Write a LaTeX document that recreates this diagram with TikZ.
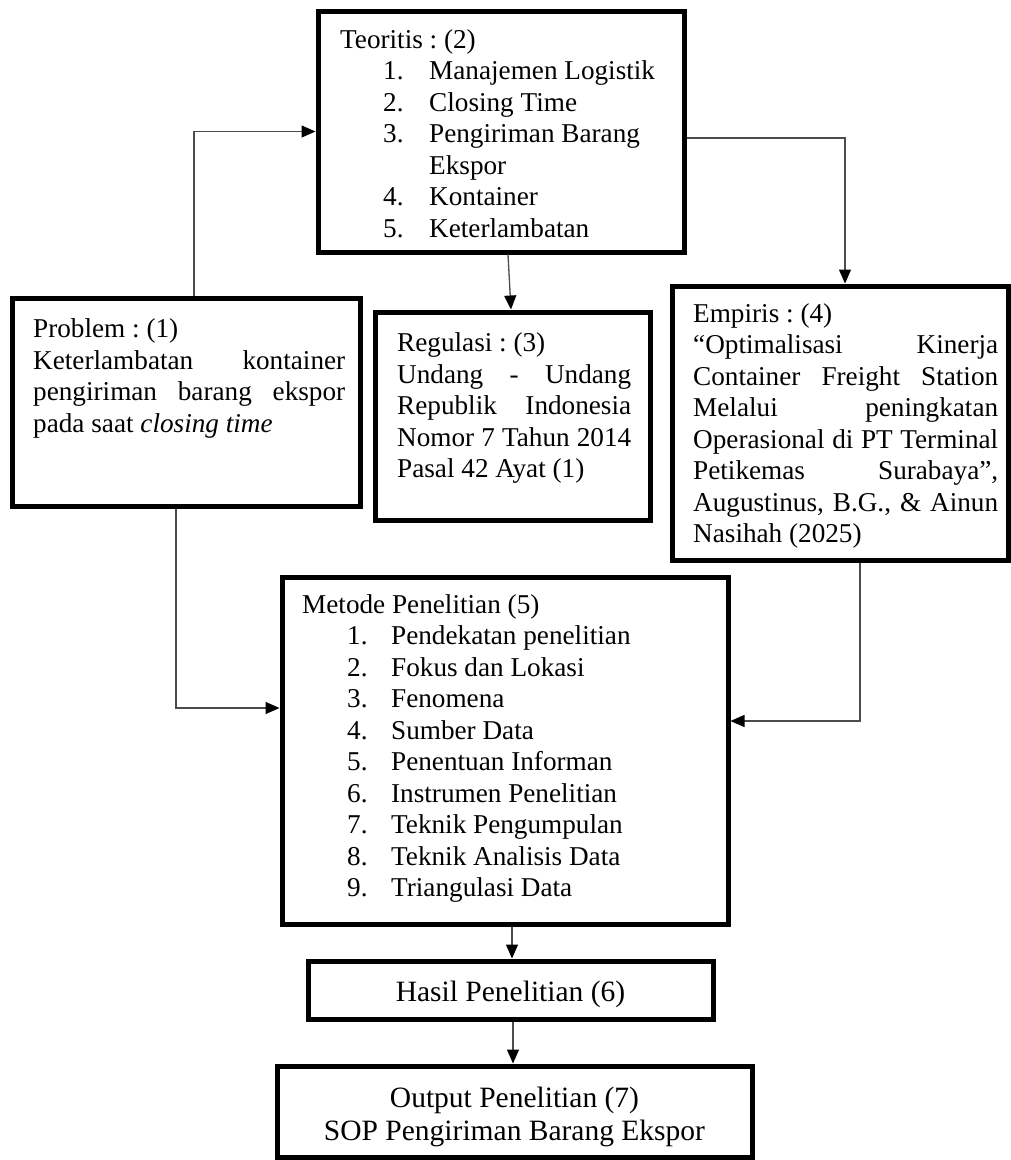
\documentclass[tikz,border=0pt]{standalone}
\usepackage{fontspec}
\setmainfont{Liberation Serif}
\usetikzlibrary{arrows.meta}
\begin{document}
\frenchspacing
\begin{tikzpicture}[x=1pt,y=-1pt,
  box/.style={draw=black, line width=5pt, inner sep=0pt, rectangle},
  txt/.style={inner sep=0pt, anchor=north west, align=left, font=\fontsize{27.2}{31.5}\selectfont\frenchspacing},
  big/.style={inner sep=0pt, align=center, font=\fontsize{29.5}{33}\selectfont\frenchspacing},
  arr/.style={draw=black!70, line width=1.3pt, -{Triangle[length=14pt,width=12pt,color=black]}}]
\useasboundingbox (0,0) rectangle (1011,1160);

% boxes
\node[box, minimum width=366pt, minimum height=241pt] (teo) at (501,131.5) {};
\node[box, minimum width=348pt, minimum height=208pt] (prob) at (186,402) {};
\node[box, minimum width=275pt, minimum height=208pt] (reg) at (512.5,416) {};
\node[box, minimum width=336pt, minimum height=274pt] (emp) at (840,423) {};
\node[box, minimum width=446pt, minimum height=347pt] (met) at (505,750.5) {};
\node[box, minimum width=405pt, minimum height=58pt] (has) at (510.5,990) {};
\node[box, minimum width=475pt, minimum height=91pt] (out) at (514.5,1111.5) {};

% texts
\node[txt] (teoT) at (340,23) {\rule{0pt}{25pt}Teoritis : (2)\\
\hspace*{43pt}\makebox[46pt][l]{1.}Manajemen Logistik\\
\hspace*{43pt}\makebox[46pt][l]{2.}Closing Time\\
\hspace*{43pt}\makebox[46pt][l]{3.}Pengiriman Barang\\
\hspace*{89pt}Ekspor\\
\hspace*{43pt}\makebox[46pt][l]{4.}Kontainer\\
\hspace*{43pt}\makebox[46pt][l]{5.}Keterlambatan};

\node[txt] (probT) at (33,312.5) {\rule{0pt}{25pt}Problem : (1)\\
\makebox[312pt][s]{Keterlambatan kontainer}\\
\makebox[312pt][s]{pengiriman barang ekspor}\\
pada saat \textit{closing time}};

\node[txt] (regT) at (397,326.5) {\rule{0pt}{25pt}Regulasi : (3)\\
\makebox[234pt][s]{Undang - Undang}\\
\makebox[234pt][s]{Republik Indonesia}\\
\makebox[234pt][s]{Nomor 7 Tahun 2014}\\
Pasal 42 Ayat (1)};

\node[txt] (empT) at (693,297) {\rule{0pt}{25pt}Empiris : (4)\\
\makebox[305pt][s]{“Optimalisasi Kinerja}\\
\makebox[305pt][s]{Container Freight Station}\\
\makebox[305pt][s]{Melalui peningkatan}\\
\makebox[305pt][s]{Operasional di PT Terminal}\\
\makebox[305pt][s]{Petikemas Surabaya”,}\\
\makebox[305pt][s]{Augustinus, B.G., \& Ainun}\\
Nasihah (2025)};

\node[txt] (metT) at (302,588) {\rule{0pt}{25pt}Metode Penelitian (5)\\
\hspace*{45pt}\makebox[44pt][l]{1.}Pendekatan penelitian\\
\hspace*{45pt}\makebox[44pt][l]{2.}Fokus dan Lokasi\\
\hspace*{45pt}\makebox[44pt][l]{3.}Fenomena\\
\hspace*{45pt}\makebox[44pt][l]{4.}Sumber Data\\
\hspace*{45pt}\makebox[44pt][l]{5.}Penentuan Informan\\
\hspace*{45pt}\makebox[44pt][l]{6.}Instrumen Penelitian\\
\hspace*{45pt}\makebox[44pt][l]{7.}Teknik Pengumpulan\\
\hspace*{45pt}\makebox[44pt][l]{8.}Teknik Analisis Data\\
\hspace*{45pt}\makebox[44pt][l]{9.}Triangulasi Data};

\node[big, anchor=base] (hasT) at (510.5,1001) {Hasil Penelitian (6)};
\node[big, anchor=north] (outT) at (514.5,1082) {\rule{0pt}{25pt}Output Penelitian (7)\\SOP Pengiriman Barang Ekspor};

% connectors
\draw[arr] ([xshift=8pt]prob.north) |- (teo.west);
\draw[arr] ([yshift=-6.5pt]teo.east) -| ([xshift=5pt]emp.north);
\draw[arr] ([xshift=7pt]teo.south) -- ([xshift=-1.5pt]reg.north);
\draw[arr] ([xshift=-10pt]prob.south) |- ([yshift=42.5pt]met.west);
\draw[arr] ([xshift=20pt]emp.south) |- ([yshift=29.5pt]met.east);
\draw[arr] ([xshift=7pt]met.south) -- ([xshift=1.5pt]has.north);
\draw[arr] ([xshift=2.5pt]has.south) -- ([xshift=-1.5pt]out.north);
\end{tikzpicture}
\end{document}
